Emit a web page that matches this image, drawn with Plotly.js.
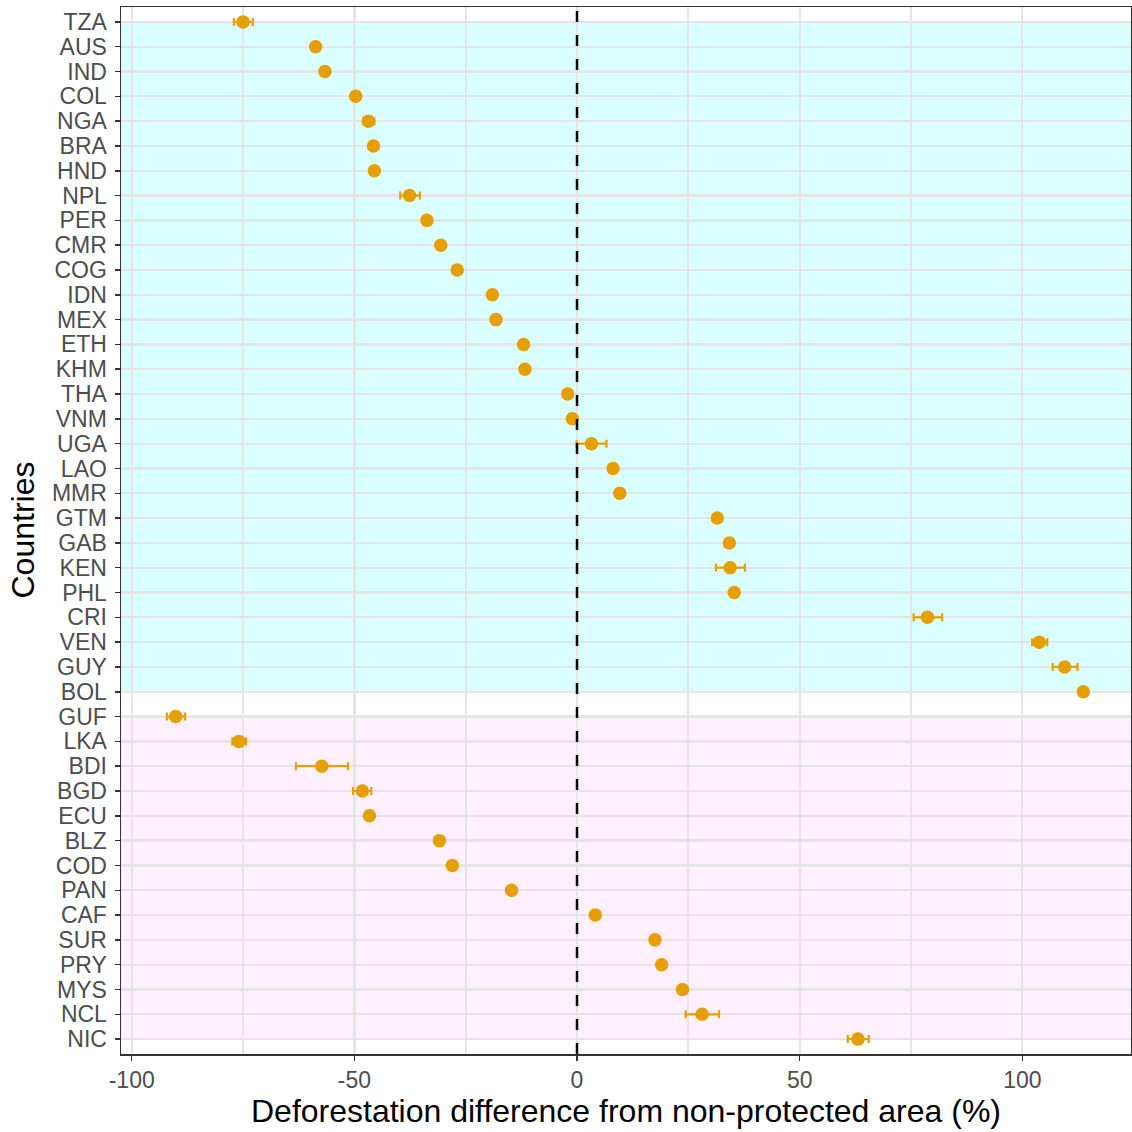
<!DOCTYPE html>
<html>
<head>
<meta charset="utf-8">
<script src="https://cdn.plot.ly/plotly-3.0.1.min.js"></script>
<style>
  html, body { margin: 0; padding: 0; background: #ffffff; }
  #chart { width: 1132px; height: 1132px; }
</style>
</head>
<body>
<div id="chart"></div>
<script>
// Country codes, top to bottom
const countries = [
  'TZA','AUS','IND','COL','NGA','BRA','HND','NPL','PER','CMR','COG','IDN','MEX','ETH',
  'KHM','THA','VNM','UGA','LAO','MMR','GTM','GAB','KEN','PHL','CRI','VEN','GUY','BOL',
  'GUF','LKA','BDI','BGD','ECU','BLZ','COD','PAN','CAF','SUR','PRY','MYS','NCL','NIC'
];

// Point estimate (%)
const estimate = [
  -75.0, -58.7, -56.6, -49.7, -46.85, -45.7, -45.5, -37.6, -33.7, -30.6, -26.9, -19.0, -18.2, -12.0,
  -11.7, -2.1, -1.05, 3.25, 8.1, 9.6, 31.5, 34.2, 34.4, 35.3, 78.7, 103.8, 109.5, 113.7,
  -90.1, -75.9, -57.3, -48.2, -46.6, -30.9, -28.0, -14.7, 4.1, 17.5, 19.0, 23.7, 28.1, 63.1
];

// Interval bounds (null where the interval is narrower than the point)
const ciLow = [
  -77.05, null, null, null, -48.0, null, null, -39.7, null, null, null, null, null, null,
  null, null, null, -0.1, null, null, null, null, 31.2, null, 75.6, 102.2, 106.8, null,
  -92.1, -77.4, -63.1, -50.3, null, null, null, null, null, null, null, null, 24.4, 60.8
];
const ciHigh = [
  -72.8, null, null, null, -45.5, null, null, -35.3, null, null, null, null, null, null,
  null, null, null, 6.6, null, null, null, null, 37.7, null, 82.0, 105.6, 112.4, null,
  -88.0, -74.3, -51.4, -46.2, null, null, null, null, null, null, null, null, 31.9, 65.5
];

// Shaded country groups: first and last member of each block
const groupFirst = ['TZA', 'GUF'];
const groupLast  = ['BOL', 'NIC'];
const groupFill  = ['rgba(0,255,255,0.15)', 'rgba(255,0,255,0.06)'];

// Axis ticks
const xTickVals = [-100, -50, 0, 50, 100];
const xTickText = ['-100', '-50', '0', '50', '100'];

const errPlus = estimate.map((v, i) => ciHigh[i] == null ? null : ciHigh[i] - v);
const errMinus = estimate.map((v, i) => ciLow[i] == null ? null : v - ciLow[i]);

const orange = '#E69F00';
const font = 'Liberation Sans, Arial, Helvetica, sans-serif';

const trace = {
  type: 'scatter',
  mode: 'markers',
  x: estimate,
  y: countries,
  marker: { color: orange, size: 13.5, line: { width: 0 } },
  error_x: {
    type: 'data',
    symmetric: false,
    array: errPlus,
    arrayminus: errMinus,
    color: orange,
    thickness: 2.2,
    width: 4
  },
  hoverinfo: 'x+y',
  showlegend: false
};

const shapes = groupFirst.map((g, i) => ({
  type: 'rect',
  xref: 'paper', yref: 'y',
  x0: 0, x1: 1,
  y0: g, y1: groupLast[i],
  fillcolor: groupFill[i],
  line: { width: 0 },
  layer: 'between'
}));

// Dashed reference line at zero
shapes.push({
  type: 'line',
  xref: 'x', yref: 'paper',
  x0: 0, x1: 0, y0: 0, y1: 1,
  line: { color: '#000000', width: 2.5, dash: '11px,13px' },
  layer: 'above'
});

const layout = {
  width: 1132,
  height: 1132,
  margin: { l: 121, r: 1, t: 7, b: 78 },
  paper_bgcolor: '#ffffff',
  plot_bgcolor: '#ffffff',
  font: { family: font, color: '#4d4d4d' },
  shapes: shapes,
  annotations: [{
    text: 'Countries',
    xref: 'paper', yref: 'paper',
    x: 0, y: 0.5,
    xanchor: 'center', yanchor: 'middle',
    xshift: -99,
    textangle: -90,
    showarrow: false,
    font: { size: 32, color: '#000000', family: font }
  }],
  xaxis: {
    range: [-102.4, 124.4],
    tickvals: xTickVals,
    ticktext: xTickText,
    tickfont: { size: 23, color: '#4d4d4d', family: font },
    ticks: 'outside',
    ticklen: 5,
    tickwidth: 1.5,
    tickcolor: '#333333',
    showgrid: true,
    gridcolor: '#e5e5e5',
    gridwidth: 2.3,
    minor: { dtick: 25, tick0: -75, showgrid: true, gridcolor: '#e5e5e5', gridwidth: 1.7, ticks: '' },
    zeroline: false,
    showline: true,
    linecolor: '#333333',
    linewidth: 1.5,
    mirror: true,
    title: { text: 'Deforestation difference from non-protected area (%)', font: { size: 32, color: '#000000', family: font }, standoff: 6 }
  },
  yaxis: {
    type: 'category',
    categoryorder: 'array',
    categoryarray: countries,
    tickmode: 'array',
    tickvals: countries,
    ticktext: countries,
    range: [41.6, -0.6],
    tickfont: { size: 23, color: '#4d4d4d', family: font },
    ticks: 'outside',
    ticklen: 5,
    tickwidth: 1.5,
    tickcolor: '#333333',
    ticklabelstandoff: 3,
    showgrid: true,
    gridcolor: '#e5e5e5',
    gridwidth: 2.3,
    zeroline: false,
    showline: true,
    linecolor: '#333333',
    linewidth: 1.5,
    mirror: true
  }
};

Plotly.newPlot('chart', [trace], layout, { displayModeBar: false, staticPlot: true });
</script>
</body>
</html>
